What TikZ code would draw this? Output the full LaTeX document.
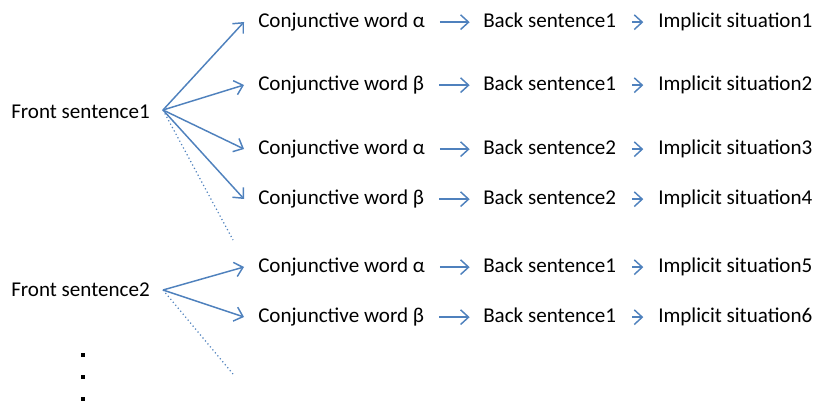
\documentclass[tikz,border=0pt]{standalone}
\usepackage{fontspec}
\setmainfont{Carlito}
\usetikzlibrary{arrows.meta}
\definecolor{arrblue}{HTML}{4F81BD}
\tikzset{
  lbl/.style={anchor=base west,inner sep=0pt,font=\fontsize{15.8}{18}\selectfont,text=black,text height=8pt,text depth=0pt},
  arr/.style={draw=arrblue,line width=1.1pt,-{Straight Barb[length=6pt,width=11pt,line width=1.1pt]}},
  dotline/.style={draw=arrblue,line width=0.9pt,dotted},
  dotmark/.style={fill=black,inner sep=0pt,minimum size=2.8pt,rectangle}
}
\begin{document}
\begin{tikzpicture}[x=0.75pt,y=-0.75pt]
\useasboundingbox (0,0) rectangle (815,403);
% front sentences
\node[lbl] (f1) at (11,118) {Front sentence1};
\node[lbl] (f2) at (11,296) {Front sentence2};
\coordinate (p1) at (163,110);
\coordinate (p2) at (163,290);
% rows
\foreach \i/\y/\g/\b/\s in {1/22/α/1/1, 2/85/β/1/2, 3/149/α/2/3, 4/199/β/2/4, 5/267/α/1/5, 6/317/β/1/6}{
  \node[lbl] (c\i) at (258,\y+5.5) {Conjunctive word \g};
  \node[lbl] (b\i) at (483,\y+5.5) {Back sentence\b};
  \node[lbl] (s\i) at (658,\y+5.5) {Implicit situation\s};
  \coordinate (t\i) at (244,\y);
  \draw[arr,shorten <=11pt,shorten >=10pt] (c\i.east) -- (b\i.west);
  \draw[arr,shorten <=12pt,shorten >=11pt] (b\i.east) -- (s\i.west);
}
\foreach \i in {1,2,3,4}{\draw[arr] (p1) -- (t\i);}
\foreach \i in {5,6}{\draw[arr] (p2) -- (t\i);}
\coordinate (d1) at (233,240);
\coordinate (d2) at (233,374);
\draw[dotline] (p1) -- (d1);
\draw[dotline] (p2) -- (d2);
% vertical ellipsis
\node[dotmark] (e1) at (83,355) {};
\node[dotmark] (e2) at (83,377) {};
\node[dotmark] (e3) at (83,399) {};
\end{tikzpicture}
\end{document}
